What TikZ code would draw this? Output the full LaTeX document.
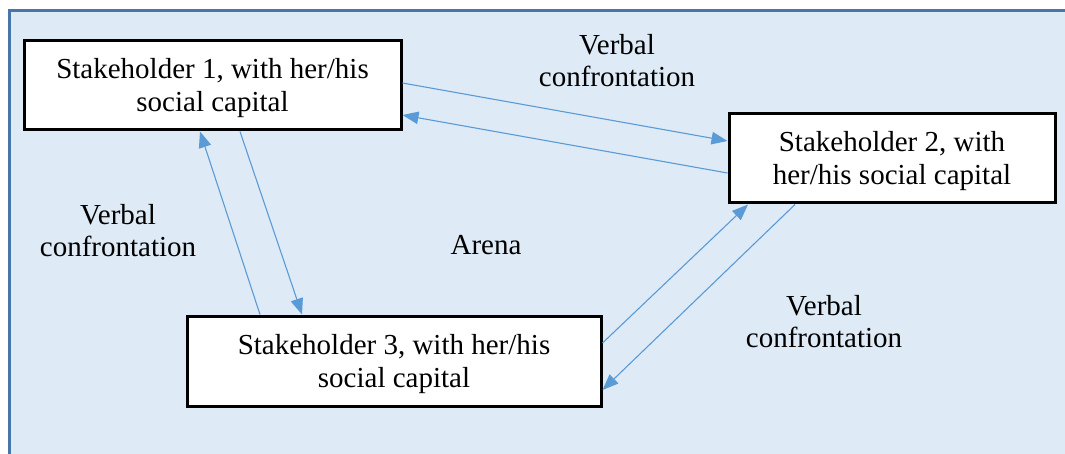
\documentclass[tikz,border=0pt]{standalone}
\usepackage{fontspec}
\setmainfont{Liberation Serif}
\usetikzlibrary{arrows.meta}
\definecolor{arenafill}{RGB}{222,234,246}
\definecolor{arenaline}{RGB}{72,118,170}
\definecolor{flow}{RGB}{91,155,213}
\newcommand{\lifttop}{\rule{0pt}{26pt}}
\tikzset{
  holder/.style={draw=black, line width=3pt, fill=white, align=center,
    inner sep=0pt, font=\fontsize{29}{33}\selectfont},
  lbl/.style={align=center, inner sep=0pt, font=\fontsize{29}{32}\selectfont},
  flowarrow/.style={draw=flow, line width=1.1pt,
    -{Triangle[length=16pt,width=12.5pt]}},
}
\begin{document}
\begin{tikzpicture}[x=1pt,y=-1pt]
  \useasboundingbox (0,0) rectangle (1065,454);
  \begin{scope}
    \clip (0,0) rectangle (1065,454);
    % the arena
    \draw[arenaline, line width=3pt, fill=arenafill] (9,11) rectangle (1080,470);
  \end{scope}

  % stakeholders
  \node[holder, minimum width=377pt, minimum height=89pt] (s1) at (212.5,85.5)
    {\lifttop Stakeholder 1, with her/his\\social capital};
  \node[holder, minimum width=326pt, minimum height=89pt] (s2) at (892,158.5)
    {\lifttop Stakeholder 2, with\\her/his social capital};
  \node[holder, minimum width=414pt, minimum height=90pt] (s3) at (394,361)
    {\lifttop Stakeholder 3, with her/his\\social capital};

  % labels
  \node[lbl] (t12) at (617,61) {Verbal\\confrontation};
  \node[lbl] (t13) at (118,231) {Verbal\\confrontation};
  \node[lbl] (t23) at (824,322) {Verbal\\confrontation};
  \node[lbl] (arena) at (486,245) {Arena};

  % confrontations between 1 and 2
  \draw[flowarrow] ([yshift=2.5pt]s1.east) -- ([yshift=17.5pt]s2.west);
  \draw[flowarrow] ([yshift=-14.5pt]s2.west) -- ([yshift=-29.5pt]s1.east);
  % confrontations between 1 and 3
  \draw[flowarrow] ([xshift=-134pt]s3.north) -- ([xshift=-12.5pt]s1.south);
  \draw[flowarrow] ([xshift=27.5pt]s1.south) -- ([xshift=-92pt]s3.north);
  % confrontations between 2 and 3
  \draw[flowarrow] ([yshift=18pt]s3.east) -- ([xshift=-144pt]s2.south);
  \draw[flowarrow] ([xshift=-97pt]s2.south) -- ([yshift=-29pt]s3.east);
\end{tikzpicture}
\end{document}
